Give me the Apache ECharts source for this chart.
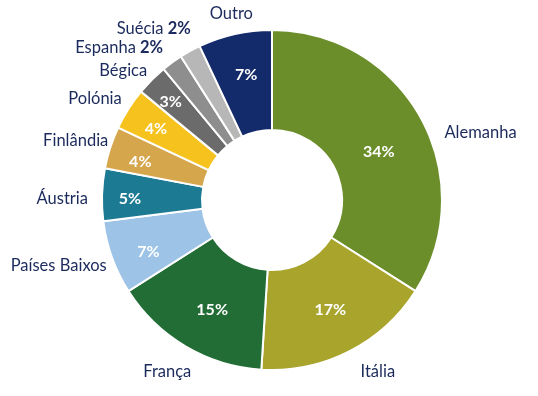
<!DOCTYPE html>
<html><head><meta charset="utf-8">
<script src="https://cdn.jsdelivr.net/npm/echarts@6/dist/echarts.min.js"></script>
<style>html,body{margin:0;padding:0;background:#fff}#c{width:538px;height:396px}</style>
</head><body><div id="c"></div>
<script>
const categories = ['Alemanha','Itália','França','Países Baixos','Áustria','Finlândia','Polónia','Bégica','Espanha','Suécia','Outro'];
const shares = [34,17,15,7,5,4,4,3,2,2,7];

// styles
const colors = ['#6b8e2a','#a8a42c','#226d36','#9dc3e6','#1d7a93','#d6a64d','#f6c21e','#6b6b6b','#8e8e8e','#b7b7b7','#132a6b'];
const nameRadius = [185,202,201,178,184,174,181,180,187,190,191];
const nameShift  = [7.6,-4.6,0.8,-2,-1.5,1.8,1.5,1.1,0.4,3.5,0.3];
const nameAlign  = ['left','center','center','right','right','right','right','right','right','right','center'];
const pctRadius  = [117,124,125,134,142,137,136,141,0,0,128];
const pctShift   = [4.6,-1,-2,-3,-1.4,-2,-1,-1,0,0,1];

const CX = 272, CY = 200, R0 = 70, R1 = 170;
const total = shares.reduce((a,b)=>a+b,0);
const mids = [];
let acc = 0;
shares.forEach(v => { mids.push((acc + v/2) / total * 360); acc += v; });
function polar(r, deg){ const a = deg*Math.PI/180; return [CX + r*Math.sin(a), CY - r*Math.cos(a)]; }

const navy = '#1b2a5c';
const FS = 16.5;
const data = categories.map((n,i)=>({name:n, value:shares[i], itemStyle:{color:colors[i]}}));

const chart = echarts.init(document.getElementById('c'), null, {renderer:'canvas'});
chart.setOption({
  animation:false,
  series:[
    {
      type:'pie', center:[CX,CY], radius:[R0,R1], startAngle:90, clockwise:true,
      avoidLabelOverlap:false, silent:true,
      itemStyle:{borderColor:'#fff', borderWidth:2},
      label:{show:true, position:'inside', color:'#fff', fontFamily:'Lato', fontWeight:'bold', fontSize:16,
        formatter: p => p.value >= 3 ? p.value + '%' : ''},
      labelLine:{show:false},
      labelLayout: p => {
        const i = p.dataIndex; const [x,y] = polar(pctRadius[i], mids[i] + pctShift[i]);
        return {x, y, align:'center', verticalAlign:'middle'};
      },
      data: data
    },
    {
      type:'pie', center:[CX,CY], radius:[R0,R1], startAngle:90, clockwise:true,
      avoidLabelOverlap:false, silent:true,
      itemStyle:{color:'rgba(0,0,0,0)', borderWidth:0},
      label:{show:true, position:'outside', color:navy, fontFamily:'Lato', fontSize:FS,
        formatter: p => p.value < 3 ? '{n|' + p.name + '} {b|' + p.value + '%}' : p.name,
        rich:{n:{color:navy, fontFamily:'Lato', fontSize:FS}, b:{color:navy, fontFamily:'Lato', fontSize:FS, fontWeight:'bold'}}},
      labelLine:{show:false},
      labelLayout: p => {
        const i = p.dataIndex; const [x,y] = polar(nameRadius[i], mids[i] + nameShift[i]);
        return {x, y, align:nameAlign[i], verticalAlign:'middle'};
      },
      data: categories.map((n,i)=>({name:n, value:shares[i]}))
    }
  ]
});
</script></body></html>
